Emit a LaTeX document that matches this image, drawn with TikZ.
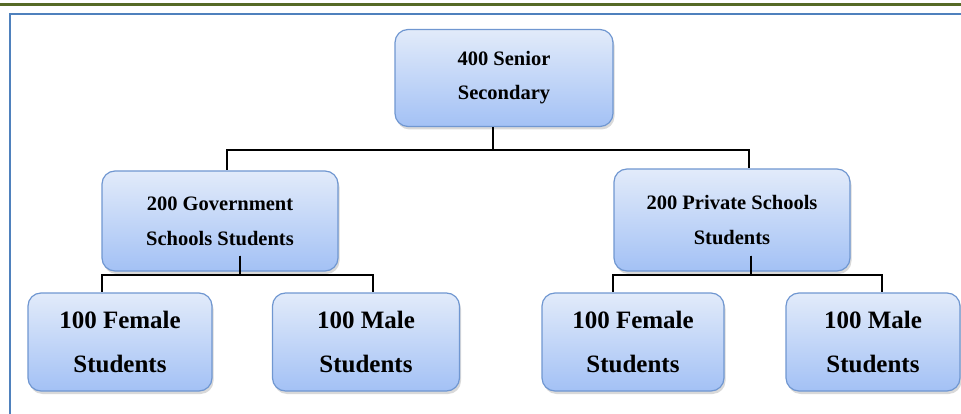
\documentclass[tikz,border=0pt]{standalone}
\usepackage{fontspec}
\setmainfont{Liberation Serif}
\usetikzlibrary{shadows}

\definecolor{boxtop}{HTML}{E2EBFA}
\definecolor{boxbot}{HTML}{A3C1F5}
\definecolor{boxline}{HTML}{7097D1}
\definecolor{frameblue}{HTML}{4F81BD}
\definecolor{pageline}{HTML}{566A26}

\begin{document}
\begin{tikzpicture}
	[x=1pt, y=-1pt,
	box/.style={rectangle, rounded corners=13pt, draw=boxline, line width=1.2pt, top color=boxtop, bottom color=boxbot, align=center, inner sep=0pt, drop shadow={shadow xshift=1.5pt, shadow yshift=-3pt, opacity=0.3}},
	topBox/.style={box, minimum width=218pt, minimum height=97pt, font=\fontsize{20.5}{34}\selectfont\bfseries},
	midBox/.style={box, minimum width=236pt, minimum height=100pt, font=\fontsize{20.5}{35}\selectfont\bfseries},
	leafBox/.style={box, minimum width=184pt, minimum height=98pt, font=\fontsize{25}{44}\selectfont\bfseries},
	link/.style={draw=black, line width=2pt}]
	
	\useasboundingbox (0,0) rectangle (961,414);
	
	% page rule and frame
	\draw[pageline, line width=3pt] (0,5) -- (961,5);
	\draw[frameblue, line width=1.5pt] (10,420) -- (10,14) -- (965,14);
	
	% top level
	\node (root) at ( 504,78 ) [topBox] {400 Senior\\Secondary};
	
	% school types
	\node (gov) at ( 220,221 ) [midBox] {200 Government\\Schools Students};
	\node (priv) at ( 732,220 ) [midBox, minimum height=102pt] {200 Private Schools\\Students};
	
	% students by gender
	\node (femA) at ( 120,342 ) [leafBox] {100 Female\\Students};
	\node (maleA) at ( 366,342 ) [leafBox, minimum width=187pt] {100 Male\\Students};
	\node (femB) at ( 633,342 ) [leafBox, minimum width=182pt] {100 Female\\Students};
	\node (maleB) at ( 873,342 ) [leafBox, minimum width=174pt] {100 Male\\Students};
	
	\draw [link] ([xshift=-11pt]root.south) -- ++(0,23) -| ([xshift=7pt]gov.north);
	\draw [link] ([xshift=-11pt]root.south) -- ++(0,23) -| ([xshift=17pt]priv.north);
	
	\draw [link] ([xshift=20pt,yshift=16pt]gov.south) -- ++(0,19) -| ([xshift=-18pt]femA.north);
	\draw [link] ([xshift=20pt,yshift=16pt]gov.south) -- ++(0,19) -| ([xshift=7pt]maleA.north);
	
	\draw [link] ([xshift=19pt,yshift=16pt]priv.south) -- ++(0,19) -| ([xshift=-20pt]femB.north);
	\draw [link] ([xshift=19pt,yshift=16pt]priv.south) -- ++(0,19) -| ([xshift=9pt]maleB.north);

\end{tikzpicture}
\end{document}
